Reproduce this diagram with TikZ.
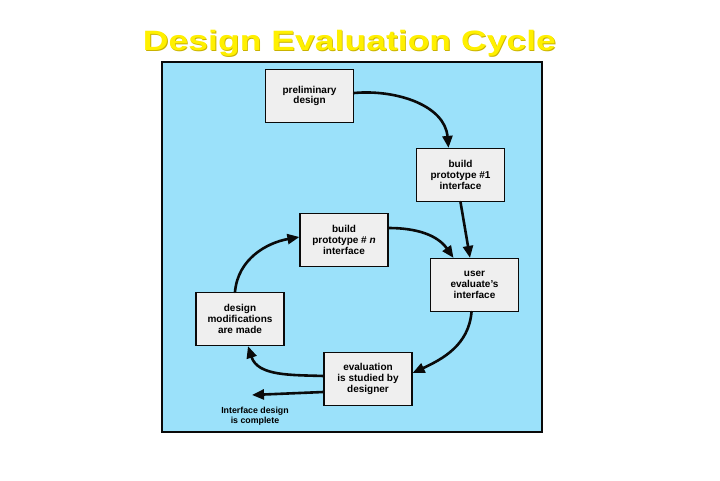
\documentclass[tikz,border=0pt]{standalone}
\usepackage{fontspec}
\setmainfont{Liberation Sans}
\newfontfamily\ttlfont[FakeStretch=1.27]{Liberation Sans}
\usetikzlibrary{arrows.meta}
\definecolor{sky}{HTML}{9BE1FA}
\definecolor{card}{HTML}{EFEFEF}
\definecolor{ink}{HTML}{0A0A0A}
\definecolor{ttlyel}{HTML}{FFF000}
\definecolor{ttledge}{HTML}{C9B200}
\tikzset{stage/.style={draw=ink, fill=card, line width=1.2pt, minimum width=88pt, minimum height=53pt,
    inner sep=0pt, align=center, font=\bfseries\fontsize{10}{10.8}\selectfont},
  flow/.style={ink, line width=2.6pt, line cap=round, -{Triangle[length=12pt,width=10pt]}},
  ttlstyle/.style={anchor=base, font=\ttlfont\bfseries\fontsize{28}{30}\selectfont}}

\begin{document}
\begin{tikzpicture}[x=1pt,y=1pt]
  \useasboundingbox (0,0) rectangle (720,480);
  \node[ttlstyle,ttledge] (ttlsh) at (350.3,428.2) {Design Evaluation Cycle};
  \node[ttlstyle,ttlyel] (ttl) at (349.5,429) {Design Evaluation Cycle};
  \draw[ink,fill=sky,line width=2pt] (162,418) rectangle (542,48);
  \foreach \nm/\x/\y/\txt in {pre/309.5/384/{preliminary\\design}, b1/460.5/305/{build\\prototype \#1\\interface},
     bn/344/240/{build\\prototype \# \textit{n}\\interface}, usr/474.5/195/{user\\evaluate's\\interface},
     mod/240/161/{design\\modifications\\are made}, evl/368/101/{evaluation\\is studied by\\designer}}
     \node[stage] (\nm) at (\x,\y) {\txt};
  \node[font=\bfseries\fontsize{8.8}{10}\selectfont, align=center] (donetxt) at (255,64) {Interface design\\is complete};
  \coordinate (done) at (252,85);
  % the loop
  \draw[flow] ([yshift=3pt]pre.east) to[out=5,in=95] ([xshift=-12pt]b1.north);
  \draw[flow] (b1.south) -- ([xshift=-4.5pt]usr.north);
  \draw[flow] ([yshift=12pt]bn.east) to[out=0,in=125] ([xshift=-21pt]usr.north);
  \draw[flow] ([xshift=-3pt]usr.south) to[out=-95,in=25] ([yshift=6pt]evl.east);
  \draw[flow] ([yshift=3pt]evl.west) to[out=178,in=-72] ([xshift=8pt]mod.south);
  \draw[flow] ([xshift=-5pt]mod.north) to[out=85,in=190] ([yshift=3pt]bn.west);
  \draw[flow] ([yshift=-13pt]evl.west) -- (done);
\end{tikzpicture}
\end{document}
